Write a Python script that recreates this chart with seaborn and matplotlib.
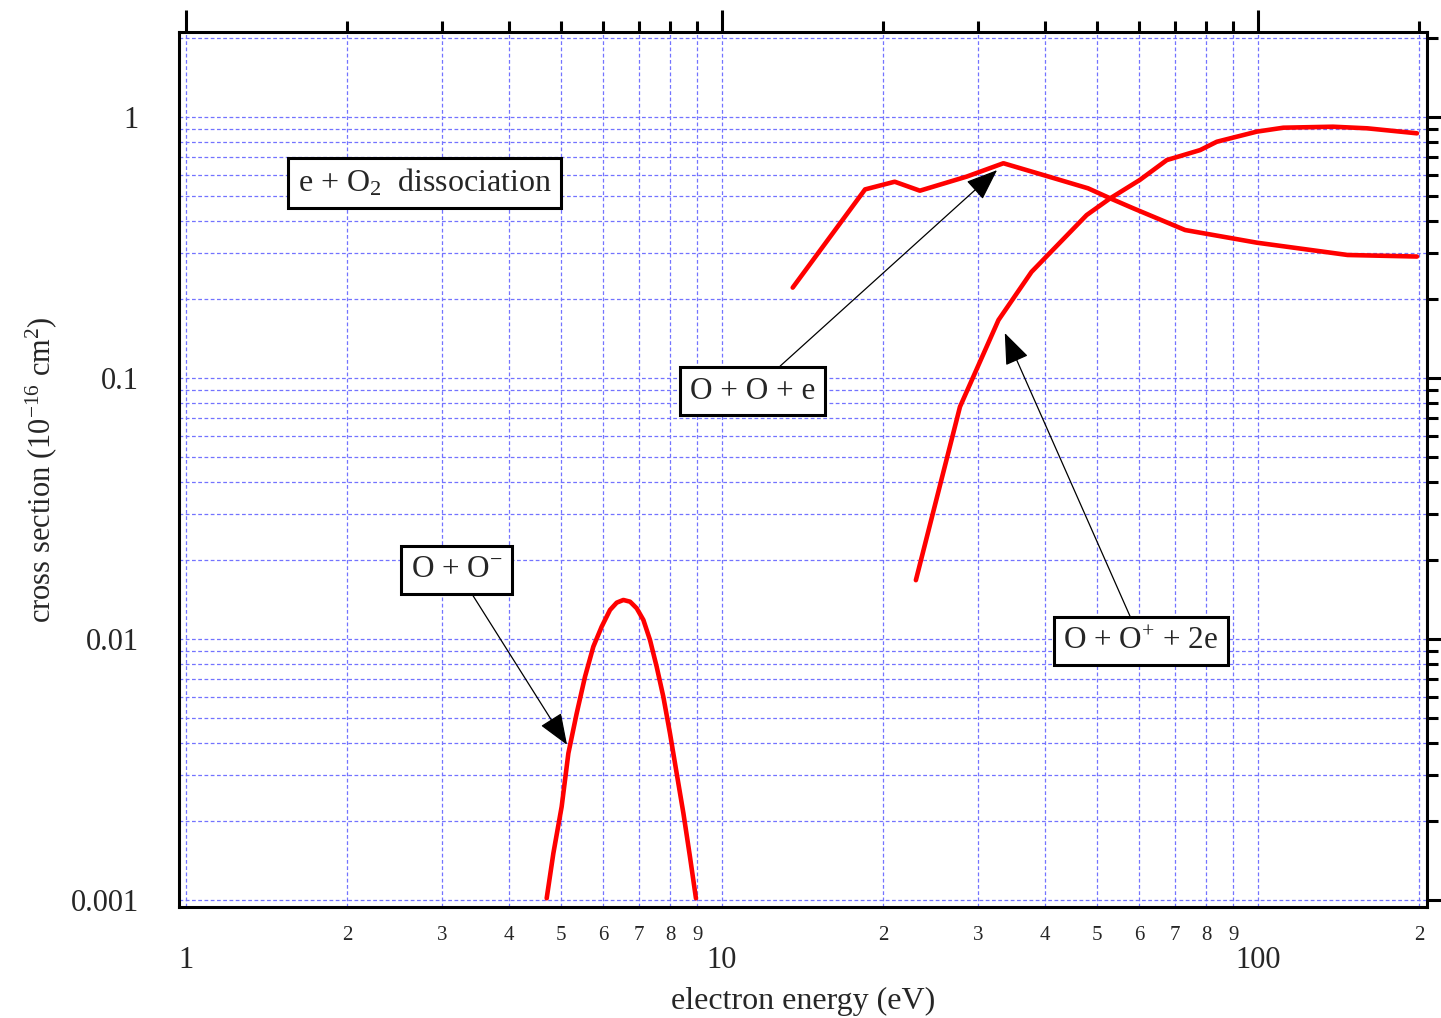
import numpy as np
import pandas as pd
import matplotlib
matplotlib.use("Agg")
import matplotlib.pyplot as plt
import matplotlib.ticker as mticker
import seaborn as sns

# ---- data ----
neg_x = [4.709, 4.846, 5.022, 5.169, 5.357, 5.552, 5.754, 5.964, 6.181, 6.362, 6.546,
         6.737, 6.933, 7.134, 7.340, 7.553, 7.772, 7.998, 8.231, 8.473, 8.714, 8.942]
neg_y = [0.001015, 0.001509, 0.002278, 0.003648, 0.005190, 0.007171, 0.009346, 0.01115,
         0.01292, 0.01378, 0.01411, 0.01390, 0.01311, 0.01183, 0.009912, 0.007834,
         0.006012, 0.004350, 0.003057, 0.002148, 0.001466, 0.001015]

diss_x = [13.55, 18.49, 21.0, 23.4, 28.6, 33.5, 39.7, 48.2, 53.0, 58.5, 73.1, 99.5, 147.0, 198.0]
diss_y = [0.222, 0.528, 0.565, 0.522, 0.591, 0.665, 0.600, 0.533, 0.488, 0.447, 0.369, 0.330, 0.296, 0.292]

ion_x = [23.0, 27.8, 32.8, 37.8, 47.9, 53.0, 60.2, 67.6, 78.0, 83.8, 99.5, 111.5, 138.0, 160.0, 198.0]
ion_y = [0.0168, 0.0776, 0.1668, 0.255, 0.421, 0.488, 0.574, 0.684, 0.747, 0.804, 0.879, 0.910, 0.918, 0.905, 0.866]

x_major = [1, 10, 100]
x_major_labels = ["1", "10", "100"]
y_major = [0.001, 0.01, 0.1, 1]
y_major_labels = ["0.001", "0.01", "0.1", "1"]

sns.set_style("white")
plt.rcParams['font.family'] = ['Liberation Serif', 'DejaVu Serif']
plt.rcParams['mathtext.fontset'] = 'custom'
plt.rcParams['mathtext.rm'] = 'Liberation Serif'
plt.rcParams['mathtext.it'] = 'Liberation Serif:italic'

fig = plt.figure(figsize=(14.41, 10.18), dpi=100)
ax = fig.add_axes([179/1441, 1 - 907/1018, (1427-179)/1441, (907-32)/1018])

red = '#ff0000'
for xs, ys in [(neg_x, neg_y), (diss_x, diss_y), (ion_x, ion_y)]:
    df = pd.DataFrame({"x": xs, "y": ys})
    sns.lineplot(data=df, x="x", y="y", ax=ax, color=red, lw=3.3,
                 estimator=None, sort=False, legend=False)

ax.set_xscale('log')
ax.set_yscale('log')
ax.set_xlim(0.9704, 206.7)
ax.set_ylim(0.000940, 2.117)

ax.xaxis.set_major_locator(mticker.FixedLocator(x_major))
ax.xaxis.set_major_formatter(mticker.FixedFormatter(x_major_labels))
ax.xaxis.set_minor_locator(mticker.LogLocator(base=10, subs=np.arange(2, 10), numticks=20))
ax.xaxis.set_minor_formatter(mticker.FuncFormatter(
    lambda v, p: "%d" % round(v / 10 ** np.floor(np.log10(v) + 1e-9))))
ax.yaxis.set_major_locator(mticker.FixedLocator(y_major))
ax.yaxis.set_major_formatter(mticker.FixedFormatter(y_major_labels))
ax.yaxis.set_minor_locator(mticker.LogLocator(base=10, subs=np.arange(2, 10), numticks=20))
ax.yaxis.set_minor_formatter(mticker.NullFormatter())

grid_c = (0.45, 0.45, 1.0)
ax.grid(True, which='both', color=grid_c, lw=0.9, ls=(0, (3, 2)))
ax.set_axisbelow(True)

for s in ax.spines.values():
    s.set_linewidth(2.2)
    s.set_color('black')

ax.tick_params(which='both', direction='out', width=2.2, color='black',
               top=True, right=True, labeltop=False, labelright=False)
ax.tick_params(which='major', length=16)
ax.tick_params(which='minor', length=8)
ax.tick_params(axis='x', which='major', labelsize=22, pad=12)
ax.tick_params(axis='x', which='minor', labelsize=15, pad=6)
ax.tick_params(axis='y', which='major', labelsize=22, pad=13)

ax.set_xlabel("electron energy (eV)", fontsize=23, labelpad=9)
ax.set_ylabel("cross section (10$^{\\mathrm{-16}}$ cm$^{2}$)", fontsize=22, labelpad=8)

box = dict(boxstyle='square,pad=0.3', fc='white', ec='black', lw=2.2)
arrow = dict(arrowstyle='-|>,head_length=0.9,head_width=0.35', color='black',
             lw=0.9, shrinkA=0, shrinkB=0, mutation_scale=22)

ax.text(2.79, 0.559, "e + O$_2$  dissociation", ha='center', va='center',
        fontsize=23, bbox=box, zorder=5)
ax.annotate("O + O + e", xy=(32.6, 0.626), xytext=(11.4, 0.0891),
            ha='center', va='center', fontsize=22.5, bbox=box, arrowprops=arrow, zorder=5)
ax.annotate("O + O$^{+}$ + 2e", xy=(33.7, 0.1487), xytext=(60.5, 0.00982),
            ha='center', va='center', fontsize=22.5, bbox=box, arrowprops=arrow, zorder=5)
ax.annotate("O + O$^{-}$", xy=(5.14, 0.00393), xytext=(3.20, 0.0184),
            ha='center', va='center', fontsize=22.5, bbox=box, arrowprops=arrow, zorder=5)

fig.savefig("out.png", dpi=100)
